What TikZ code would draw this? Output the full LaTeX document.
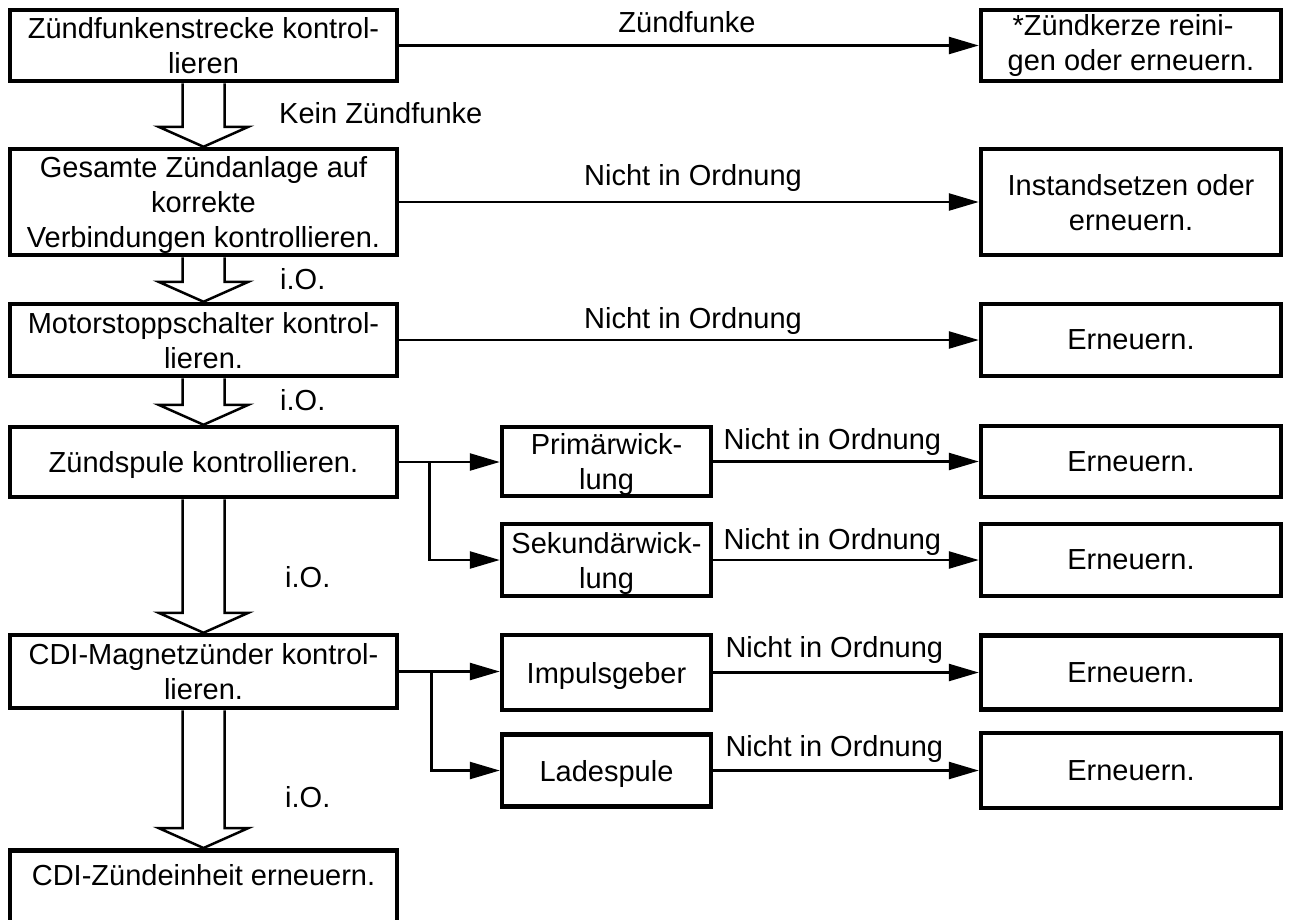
\documentclass[tikz,border=0pt]{standalone}
\usepackage{fontspec}
\setmainfont{Liberation Sans}
\usetikzlibrary{arrows.meta,calc}
\newcommand{\blockarr}[2]{%
  \draw[barrow] ($(#1.south)+(-21,0)$) -- ($(#2.north)+(-21,-20)$) -- ($(#2.north)+(-45,-20)$) -- (#2.north) -- ($(#2.north)+(45,-20)$) -- ($(#2.north)+(21,-20)$) -- ($(#1.south)+(21,0)$);}
\begin{document}
\begin{tikzpicture}[x=1pt,y=-1pt,
  every node/.style={font=\fontsize{29}{35}\selectfont},
  box/.style={draw, line width=4.5pt, align=center, inner sep=0pt, text depth=0pt},
  lbox/.style={box, minimum width=387},
  rbox/.style={box, minimum width=300},
  mbox/.style={box, minimum width=209},
  conn/.style={line width=2.5pt, -{Triangle[length=30pt,width=17pt]}},
  line/.style={line width=2.5pt},
  barrow/.style={line width=2.5pt, fill=white, line join=miter},
  lab/.style={inner sep=0pt}
]
\useasboundingbox (0,0) rectangle (1289,919);
% left column
\node[lbox, minimum height=71] (b1) at (203.5,45.5) {Zündfunkenstrecke kontrol-\\lieren};
\node[lbox, minimum height=106] (b2) at (203.5,202) {Gesamte Zündanlage auf\\korrekte\\Verbindungen kontrollieren.};
\node[lbox, minimum height=72] (b3) at (203.5,340) {Motorstoppschalter kontrol-\\lieren.};
\node[lbox, minimum height=70] (b4) at (203.5,462) {Zündspule kontrollieren.};
\node[lbox, minimum height=73] (b5) at (203.5,671.5) {CDI-Magnetzünder kontrol-\\lieren.};
\node[lbox, minimum height=85, text height=35pt, text depth=50pt, anchor=north] (b6) at (203.5,848) {CDI-Zündeinheit erneuern.};
% right column
\node[rbox, minimum height=71, align=left, text depth={}] (r1) at (1131,45.5) {\hspace*{5pt}*Zündkerze reini-\\gen oder erneuern.};
\node[rbox, minimum height=106] (r2) at (1131,202) {Instandsetzen oder\\erneuern.};
\node[rbox, minimum height=72] (r3) at (1131,340) {Erneuern.};
\node[rbox, minimum height=71] (r4) at (1131,461.5) {Erneuern.};
\node[rbox, minimum height=72] (r5) at (1131,560) {Erneuern.};
\node[rbox, minimum height=74] (r6) at (1131,672.5) {Erneuern.};
\node[rbox, minimum height=75] (r7) at (1131,770.5) {Erneuern.};
% middle column
\node[mbox, minimum height=69] (m1) at (606.5,461.5) {Primärwick-\\lung};
\node[mbox, minimum height=72] (m2) at (606.5,560) {Sekundärwick-\\lung};
\node[mbox, minimum height=75] (m3) at (606.5,672.5) {Impulsgeber};
\node[mbox, minimum height=72] (m4) at (606.5,770.5) {Ladespule};
% block arrows
\blockarr{b1}{b2}
\blockarr{b2}{b3}
\blockarr{b3}{b4}
\blockarr{b4}{b5}
\blockarr{b5}{b6}
\node[lab, anchor=base west] (k1) at (279,123) {Kein Zündfunke};
\node[lab, anchor=base west] (k2) at (280,289) {i.O.};
\node[lab, anchor=base west] (k3) at (280,410) {i.O.};
\node[lab, anchor=base west] (k4) at (285,587) {i.O.};
\node[lab, anchor=base west] (k5) at (285,807) {i.O.};
% horizontal arrows
\draw[conn] (b1.east) -- (b1.east -| r1.west) node[lab, midway, anchor=base, yshift=13pt, xshift=-2pt] (t1) {Zündfunke};
\draw[conn] (b2.east) -- (b2.east -| r2.west) node[lab, midway, anchor=base, yshift=17pt, xshift=4pt] (t2) {Nicht in Ordnung};
\draw[conn] (b3.east) -- (b3.east -| r3.west) node[lab, midway, anchor=base, yshift=12pt, xshift=4pt] (t3) {Nicht in Ordnung};
% branches
\draw[conn] (b4.east) -- (b4.east -| m1.west);
\coordinate (j1) at ($(b4.east)+(30,0)$);
\draw[line] (j1) |- ($(m2.west)+(-30,0)$);
\draw[conn] ($(m2.west)+(-31.25,0)$) -- (m2.west);
\draw[conn] (b5.east) -- (b5.east -| m3.west);
\coordinate (j2) at ($(b5.east)+(32,0)$);
\draw[line] (j2) |- ($(m4.west)+(-30,0)$);
\draw[conn] ($(m4.west)+(-31.25,0)$) -- (m4.west);
% middle to right
\draw[conn] (m1.east) -- (m1.east -| r4.west) node[lab, pos=0, anchor=base west, xshift=9pt, yshift=12pt] (t4) {Nicht in Ordnung};
\draw[conn] (m2.east) -- (m2.east -| r5.west) node[lab, pos=0, anchor=base west, xshift=9pt, yshift=11pt] (t5) {Nicht in Ordnung};
\draw[conn] (m3.east) -- (m3.east -| r6.west) node[lab, pos=0, anchor=base west, xshift=11pt, yshift=15pt] (t6) {Nicht in Ordnung};
\draw[conn] (m4.east) -- (m4.east -| r7.west) node[lab, pos=0, anchor=base west, xshift=11pt, yshift=14pt] (t7) {Nicht in Ordnung};
\end{tikzpicture}
\end{document}
